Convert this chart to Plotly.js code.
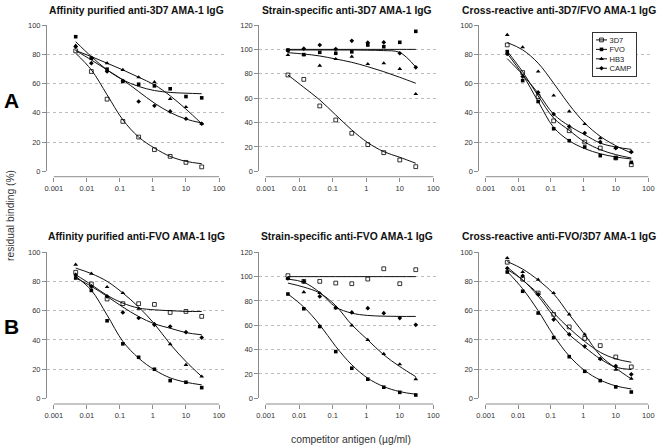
<!DOCTYPE html>
<html>
<head>
<meta charset="utf-8">
<script src="https://cdn.plot.ly/plotly-3.0.1.min.js"></script>
<style>
  html, body { margin: 0; padding: 0; background: #fff; }
  #plot { width: 661px; height: 447px; }
</style>
</head>
<body>
<div id="plot"></div>
<script>
// ---------- data ----------
const conc = [0.0046, 0.0137, 0.041, 0.123, 0.37, 1.11, 3.33, 10, 30];
const seriesNames = ['3D7', 'FVO', 'HB3', 'CAMP'];
const xTickVals = [0.001, 0.01, 0.1, 1, 10, 100];
const xTickText = ['0.001', '0.01', '0.1', '1', '10', '100'];
const panelTitles = [
  'Affinity purified anti-3D7 AMA-1 IgG',
  'Strain-specific anti-3D7 AMA-1 IgG',
  'Cross-reactive anti-3D7/FVO AMA-1 IgG',
  'Affinity purified anti-FVO AMA-1 IgG',
  'Strain-specific anti-FVO AMA-1 IgG',
  'Cross-reactive anti-FVO/3D7 AMA-1 IgG'
];
const panelYMax = [100, 120, 100, 100, 120, 100];
const rowLabels = ['A', 'B'];

// Panel A1
const a1_3D7 = [82.3, 68.2, 49.3, 34.1, 23.4, 14.8, 10.2, 6.1, 3.0];
const a1_FVO = [92, 77.3, 69.8, 61.4, 59.5, 58.4, 56.4, 51.1, 50.2];
const a1_HB3 = [85.9, 77.7, 73.9, 69.3, 64.3, 60.9, 49.5, 43.9, 32.5];
const a1_CAMP = [85.2, 73.9, 68.2, 61.8, 47.7, 44.8, 40.9, 35.9, 32.5];
const a1_3D7_fit = [80.7, 69.3, 52.3, 35.2, 23.4, 15.9, 10.2, 6.8, 5.2];
const a1_FVO_fit = [88.6, 78.4, 69.3, 62.5, 58, 55.2, 53.9, 53.4, 53];
const a1_HB3_fit = [82.5, 78.4, 73.9, 69.3, 64.3, 59.1, 51.6, 42.5, 32.5];
const a1_CAMP_fit = [82.5, 76.1, 69.3, 62.5, 54.5, 46.6, 40.2, 35.7, 33];

// Panel A2
const a2_3D7 = [79, 75.4, 53.6, 42.1, 31.2, 21.9, 15.3, 9.3, 3.8];
const a2_FVO = [99.5, 95.7, 97.6, 96.8, 98, 103.6, 102.2, 105.8, 114.8];
const a2_HB3 = [95.4, 95.4, 86.7, 92.1, 94, 88, 88.6, 84, 63.4];
const a2_CAMP = [99, 100.6, 103.6, 100.3, 107, 105.5, 105.8, 96.8, 85.3];
const a2_3D7_fit = [79, 68.9, 58.5, 46.2, 33.9, 23.5, 16.1, 11.5, 6.6];
const a2_FVO_fit = [100, 100, 100, 100, 100, 100, 100, 100, 100];
const a2_HB3_fit = [97.3, 96.2, 94.6, 92.1, 89.4, 85.8, 81.7, 77.1, 72.2];
const a2_CAMP_fit = [99.5, 99.5, 99.5, 99.5, 99.5, 99.3, 99, 97.5, 85.5];

// Panel A3
const a3_3D7 = [86.4, 67.5, 51.1, 34.5, 27.7, 20, 15.9, 9.1, 4.5];
const a3_FVO = [81.8, 62, 47.7, 29.1, 20.9, 16.6, 10.7, 9.1, 6.1];
const a3_HB3 = [93.2, 84.8, 68.2, 51.8, 40.9, 32.3, 22.7, 16, 13.5];
const a3_CAMP = [80.2, 64.8, 53.9, 39.1, 30.7, 26.1, 20, 15.9, 13.2];
const a3_3D7_fit = [82, 68, 51.5, 36.4, 28, 20, 14.8, 11.4, 9.1];
const a3_FVO_fit = [80.5, 66, 47.7, 30, 20.9, 15.5, 12, 9.8, 8.4];
const a3_HB3_fit = [88, 83, 73.9, 60.2, 45.5, 33, 23.9, 17.5, 12.5];
const a3_CAMP_fit = [77, 66, 53.4, 39, 31, 25, 19.3, 16.6, 15];

// Panel B1
const b1_3D7 = [86.3, 78.3, 68, 64.8, 64.8, 64.3, 58.8, 59.5, 56.1];
const b1_FVO = [82.4, 73.9, 53.1, 37.3, 28.1, 19.9, 12.1, 11, 7.3];
const b1_HB3 = [91.5, 85.4, 76.2, 72.1, 61.3, 51, 37.1, 22.9, 14.9];
const b1_CAMP = [84.5, 76.5, 69.8, 58.8, 55, 50.3, 49.2, 45.3, 41.6];
const b1_3D7_fit = [84.7, 77.8, 70.5, 65.2, 61.8, 60.6, 60, 59.5, 59.5];
const b1_FVO_fit = [83.5, 74, 57, 39, 27.5, 19.5, 14, 11, 9.2];
const b1_HB3_fit = [89.2, 85.4, 80.1, 72.1, 62.5, 51, 37.1, 25.2, 14.9];
const b1_CAMP_fit = [82.4, 76.7, 69.8, 62.5, 56, 51, 48, 45, 43.5];

// Panel B2
const b2_3D7 = [100.8, 96.1, 96.1, 94.7, 94.2, 98, 106.5, 94.2, 105.7];
const b2_FVO = [85.7, 73.6, 59, 38.4, 24.7, 15.7, 9.1, 4.9, 2.7];
const b2_HB3 = [98, 87.3, 86.5, 74.1, 59.9, 48, 36.5, 28, 15.7];
const b2_CAMP = [98.5, 96.1, 83.7, 74.5, 70.6, 74.1, 70, 65.9, 60.4];
const b2_3D7_fit = [100, 100, 100, 100, 100, 100, 100, 100, 100];
const b2_FVO_fit = [85.7, 75, 60.4, 42.6, 27.5, 16.5, 9.6, 5.5, 3.3];
const b2_HB3_fit = [94.7, 91.4, 86.5, 76.1, 60.4, 48, 35.7, 26.1, 17.8];
const b2_CAMP_fit = [98, 95.3, 87, 75, 70, 68.1, 67.5, 67.3, 67.3];

// Panel B3
const b3_3D7 = [93.2, 81.7, 72.1, 57.5, 48.9, 41, 36.1, 28.3, 21.5];
const b3_FVO = [86.5, 73.3, 58.4, 41.6, 28.5, 18.5, 12.1, 7.8, 4.3];
const b3_HB3 = [96.1, 86.5, 81.3, 72.1, 57.5, 43.8, 27.2, 19.6, 13.5];
const b3_CAMP = [89, 83.8, 71.2, 53.9, 43.8, 35.6, 27, 22.1, 16.4];
const b3_3D7_fit = [89.8, 81, 71.5, 58.5, 48, 38.9, 31.5, 27, 24.7];
const b3_FVO_fit = [86.9, 75, 60, 43, 29, 19, 12.5, 8.5, 6.4];
const b3_HB3_fit = [93.7, 88.5, 81, 71.5, 57.4, 43.7, 29.3, 20.6, 13.3];
const b3_CAMP_fit = [88.2, 81, 70, 56, 43.7, 35, 27, 21.3, 19.7];

const panelPoints = [
  [a1_3D7, a1_FVO, a1_HB3, a1_CAMP],
  [a2_3D7, a2_FVO, a2_HB3, a2_CAMP],
  [a3_3D7, a3_FVO, a3_HB3, a3_CAMP],
  [b1_3D7, b1_FVO, b1_HB3, b1_CAMP],
  [b2_3D7, b2_FVO, b2_HB3, b2_CAMP],
  [b3_3D7, b3_FVO, b3_HB3, b3_CAMP]
];
const panelFits = [
  [a1_3D7_fit, a1_FVO_fit, a1_HB3_fit, a1_CAMP_fit],
  [a2_3D7_fit, a2_FVO_fit, a2_HB3_fit, a2_CAMP_fit],
  [a3_3D7_fit, a3_FVO_fit, a3_HB3_fit, a3_CAMP_fit],
  [b1_3D7_fit, b1_FVO_fit, b1_HB3_fit, b1_CAMP_fit],
  [b2_3D7_fit, b2_FVO_fit, b2_HB3_fit, b2_CAMP_fit],
  [b3_3D7_fit, b3_FVO_fit, b3_HB3_fit, b3_CAMP_fit]
];

// ---------- styling / layout ----------
const W = 661, H = 447;
const FONT = 'Liberation Sans, Arial, Helvetica, sans-serif';
const AXC = '#8c8c8c';
const markerStyles = [
  {symbol: 'square-open', size: 3.8, color: '#000', line: {color: '#222', width: 0.8}},
  {symbol: 'square', size: 3.6, color: '#000'},
  {symbol: 'triangle-up', size: 4.2, color: '#000'},
  {symbol: 'diamond', size: 3.6, color: '#000'}
];
// pixel geometry per column / row
const cols = [
  {yl: 47, t0: 53.8, t5: 219, gEnd: 224, tc: 136},
  {yl: 259.3, t0: 265.7, t5: 433.3, gEnd: 438, tc: 347},
  {yl: 479.3, t0: 485.7, t5: 648.3, gEnd: 652, tc: 559}
];
const rows = [
  {top: 25, bot: 171.3, xline: 176.7, ty: 10.5, lab: 100},
  {top: 252.3, bot: 398.3, xline: 404, ty: 236, lab: 326}
];

const traces = [];
const layout = {
  width: W, height: H, autosize: false,
  margin: {l: 0, r: 0, t: 0, b: 0},
  paper_bgcolor: '#fff', plot_bgcolor: 'rgba(0,0,0,0)',
  font: {family: FONT, color: '#333'},
  showlegend: true,
  legend: {
    x: 592 / W, y: 1 - 32 / H, xanchor: 'left', yanchor: 'top',
    bordercolor: '#333', borderwidth: 1, bgcolor: '#fff',
    font: {family: FONT, size: 7.5, color: '#222'},
    tracegroupgap: 0
  },
  annotations: [],
  shapes: []
};

for (let i = 0; i < 6; i++) {
  const r = rows[Math.floor(i / 3)], c = cols[i % 3];
  const n = i === 0 ? '' : String(i + 1);
  const dec = (c.t5 - c.t0) / 5;
  const xr = [-3 - (c.t0 - c.yl) / dec, 2 + (c.gEnd - c.t5) / dec];
  layout['xaxis' + n] = {
    type: 'log', domain: [c.yl / W, c.gEnd / W], range: xr,
    anchor: 'free', position: 1 - r.xline / H,
    tickmode: 'array', tickvals: xTickVals, ticktext: xTickText,
    ticks: 'outside', ticklen: 4, tickcolor: AXC, tickwidth: 1,
    showline: false, showgrid: false, zeroline: false,
    tickfont: {family: FONT, size: 7.5, color: '#333'}, fixedrange: true
  };
  layout['yaxis' + n] = {
    domain: [1 - r.bot / H, 1 - r.top / H], range: [0, panelYMax[i]],
    anchor: 'x' + n, tick0: 0, dtick: 20,
    ticks: 'outside', ticklen: 4, tickcolor: AXC, tickwidth: 1,
    showline: true, linecolor: AXC, linewidth: 1,
    showgrid: true, gridcolor: '#bdbdbd', griddash: 'dot', gridwidth: 1,
    zeroline: false,
    tickfont: {family: FONT, size: 7.5, color: '#333'}, fixedrange: true
  };
  // x axis line between first and last tick
  layout.shapes.push({
    type: 'line', xref: 'paper', yref: 'paper',
    x0: c.t0 / W, x1: c.t5 / W, y0: 1 - r.xline / H, y1: 1 - r.xline / H,
    line: {color: AXC, width: 1}
  });
  layout.annotations.push({
    xref: 'paper', yref: 'paper', x: c.tc / W, y: 1 - r.ty / H,
    xanchor: 'center', yanchor: 'middle', showarrow: false,
    text: '<b>' + panelTitles[i] + '</b>',
    font: {family: FONT, size: 10.3, color: '#111'}
  });
  for (let s = 0; s < 4; s++) {
    traces.push({
      type: 'scatter', mode: 'lines', x: conc, y: panelFits[i][s],
      xaxis: 'x' + n, yaxis: 'y' + n, showlegend: false, hoverinfo: 'skip',
      line: {color: '#111', width: 1, shape: 'spline', smoothing: 1}
    });
    traces.push({
      type: 'scatter', mode: 'markers', x: conc, y: panelPoints[i][s],
      xaxis: 'x' + n, yaxis: 'y' + n, showlegend: false, cliponaxis: false,
      marker: markerStyles[s]
    });
  }
}
// legend entries (line + symbol), placed in panel A3's legend
for (let s = 0; s < 4; s++) {
  traces.push({
    type: 'scatter', mode: 'lines+markers', x: [null], y: [null],
    xaxis: 'x3', yaxis: 'y3', name: seriesNames[s], showlegend: true,
    line: {color: '#111', width: 1}, marker: markerStyles[s]
  });
}
// row labels and shared axis titles
rowLabels.forEach((lab, k) => {
  layout.annotations.push({
    xref: 'paper', yref: 'paper', x: 11 / W, y: 1 - rows[k].lab / H,
    xanchor: 'center', yanchor: 'middle', showarrow: false,
    text: '<b>' + lab + '</b>', font: {family: FONT, size: 21, color: '#000'}
  });
});
layout.annotations.push({
  xref: 'paper', yref: 'paper', x: 10 / W, y: 1 - 216 / H,
  xanchor: 'center', yanchor: 'middle', showarrow: false, textangle: -90,
  text: 'residual binding (%)', font: {family: FONT, size: 10.3, color: '#333'}
});
layout.annotations.push({
  xref: 'paper', yref: 'paper', x: 351 / W, y: 1 - 439 / H,
  xanchor: 'center', yanchor: 'middle', showarrow: false,
  text: 'competitor antigen (µg/ml)', font: {family: FONT, size: 10.3, color: '#333'}
});

function compactLegend(gd) {
  const leg = gd.querySelector('g.legend');
  if (!leg) return;
  const items = leg.querySelectorAll('g.traces');
  const step = 9.45, pad = 2.2, textX = 16.5;
  let maxR = 0;
  items.forEach((it, k) => {
    it.querySelectorAll('path.js-line').forEach(p => p.setAttribute('d', 'M3,0h11'));
    it.querySelectorAll('.legendpoints path').forEach(p => p.setAttribute('transform', 'translate(8.5,0)'));
    const txt = it.querySelector('text.legendtext');
    if (txt) {
      txt.setAttribute('x', textX);
      txt.querySelectorAll('tspan').forEach(t => { if (t.hasAttribute('x')) t.setAttribute('x', textX); });
      maxR = Math.max(maxR, textX + txt.getComputedTextLength());
    }
    it.setAttribute('transform', 'translate(1,' + (pad + 1 + step * (k + 0.5)) + ')');
  });
  const bg = leg.querySelector('rect.bg');
  if (bg) {
    bg.setAttribute('width', maxR + 6);
    bg.setAttribute('height', pad * 2 + 2 + step * items.length);
  }
}

Plotly.newPlot('plot', traces, layout, {staticPlot: true, displayModeBar: false})
  .then(compactLegend);
</script>
</body>
</html>
